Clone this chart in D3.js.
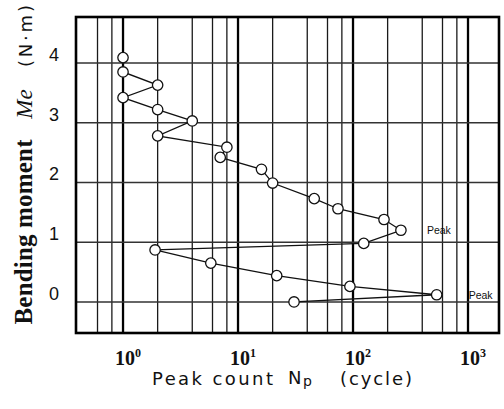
<!DOCTYPE html>
<html>
<head>
<meta charset="utf-8">
<script src="https://cdn.jsdelivr.net/npm/d3@7"></script>
<style>
  body { margin: 0; background: #fff; }
  svg { display: block; }
</style>
</head>
<body>
<svg id="drawing_region"></svg>
<script>
// peak count Np (cycle) and bending moment Me (N·m)
const peakCount = [1, 1, 2, 1, 2, 4, 2, 8, 7, 16, 20, 46, 74, 186, 261, 124, 1.9, 5.8, 21.7, 94, 534, 30.7];
const moment    = [4.09, 3.85, 3.63, 3.42, 3.22, 3.03, 2.78, 2.59, 2.42, 2.22, 1.99, 1.73, 1.56, 1.38, 1.20, 0.98, 0.87, 0.65, 0.44, 0.26, 0.12, 0.00];

const xDecades = [1, 10, 100, 1000];
const xDecadeExp = ['0', '1', '2', '3'];
const xMinor = [0.6, 0.8, 2, 4, 6, 8, 20, 40, 60, 80, 200, 400, 600, 800];
const yTicks = [0, 1, 2, 3, 4];
const peakLabels = [14, 20];   // indices of the points marked "Peak"

const config = {
    width: 504,
    height: 409,
    margin: { top: 17, right: 5, bottom: 76, left: 76 }
};

const data = peakCount.map((n, i) => ({ n: n, m: moment[i] }));

const svg = d3.select('#drawing_region')
    .attr('width', config.width)
    .attr('height', config.height);

const inner_width = config.width - config.margin.left - config.margin.right;
const inner_height = config.height - config.margin.top - config.margin.bottom;

const chart = svg.append('g')
    .attr('transform', `translate(${config.margin.left}, ${config.margin.top})`);

const xscale = d3.scaleLog()
    .domain([0.39, 1860])
    .range([0, inner_width]);

const yscale = d3.scaleLinear()
    .domain([-0.52, 4.77])
    .range([inner_height, 0]);

// grid
chart.selectAll('.vminor').data(xMinor).enter()
    .append('line')
    .attr('x1', d => xscale(d)).attr('x2', d => xscale(d))
    .attr('y1', 0).attr('y2', inner_height)
    .attr('stroke', '#1a1a1a')
    .attr('stroke-width', 1.3);

chart.selectAll('.vmajor').data(xDecades).enter()
    .append('line')
    .attr('x1', d => xscale(d)).attr('x2', d => xscale(d))
    .attr('y1', 0).attr('y2', inner_height)
    .attr('stroke', '#000')
    .attr('stroke-width', 2.3);

chart.selectAll('.hgrid').data(yTicks).enter()
    .append('line')
    .attr('x1', 0).attr('x2', inner_width)
    .attr('y1', d => yscale(d)).attr('y2', d => yscale(d))
    .attr('stroke', '#333')
    .attr('stroke-width', 1.5);

// frame
chart.append('rect')
    .attr('x', 0).attr('y', 0)
    .attr('width', inner_width).attr('height', inner_height)
    .attr('fill', 'none')
    .attr('stroke', '#000')
    .attr('stroke-width', 2.6);

// line and markers
const line = d3.line()
    .x(d => xscale(d.n))
    .y(d => yscale(d.m));

chart.append('path')
    .datum(data)
    .attr('d', line)
    .attr('fill', 'none')
    .attr('stroke', '#111')
    .attr('stroke-width', 1.3);

chart.selectAll('circle').data(data).enter()
    .append('circle')
    .attr('cx', d => xscale(d.n))
    .attr('cy', d => yscale(d.m))
    .attr('r', 5.2)
    .attr('fill', '#fff')
    .attr('stroke', '#111')
    .attr('stroke-width', 1.3);

chart.selectAll('.peak').data(peakLabels).enter()
    .append('text')
    .attr('x', (d, i) => xscale(data[d].n) + (i === 0 ? 26 : 32))
    .attr('y', d => yscale(data[d].m) + 4)
    .attr('font-family', '"Liberation Sans", Arial, sans-serif')
    .attr('font-size', 10.5)
    .attr('fill', '#111')
    .text('Peak');

// y tick labels
chart.selectAll('.ylab').data(yTicks).enter()
    .append('text')
    .attr('x', -22)
    .attr('y', d => yscale(d) - 2)
    .attr('text-anchor', 'middle')
    .attr('font-family', '"Liberation Sans", Arial, sans-serif')
    .attr('font-size', 18)
    .attr('fill', '#111')
    .text(d => d);

// x tick labels 10^n
const xlab = chart.selectAll('.xlab').data(xDecades).enter()
    .append('text')
    .attr('x', d => xscale(d) + 5)
    .attr('y', inner_height + 32)
    .attr('text-anchor', 'middle')
    .attr('font-family', '"Liberation Serif", "Times New Roman", serif')
    .attr('font-weight', 'bold')
    .attr('font-size', 20)
    .attr('fill', '#111');
xlab.append('tspan').text('10');
xlab.append('tspan')
    .attr('dy', -8)
    .attr('font-size', 12)
    .text((d, i) => xDecadeExp[i]);

// x axis title
const xt = svg.append('g')
    .attr('font-family', '"DejaVu Sans", sans-serif')
    .attr('fill', '#111');
xt.append('text').attr('x', 152).attr('y', 385).attr('font-size', 18)
    .attr('textLength', 121).attr('lengthAdjust', 'spacing').text('Peak count');
xt.append('text').attr('x', 288).attr('y', 384).attr('font-size', 18).text('N');
xt.append('text').attr('x', 303).attr('y', 386).attr('font-size', 14).text('p');
xt.append('text').attr('x', 340).attr('y', 385).attr('font-size', 18)
    .attr('textLength', 72).attr('lengthAdjust', 'spacing').text('(cycle)');

// y axis title
const yt = svg.append('g').attr('fill', '#111');
yt.append('text')
    .attr('transform', 'translate(32, 232) rotate(-90)')
    .attr('text-anchor', 'middle')
    .attr('font-family', '"Liberation Serif", "Times New Roman", serif')
    .attr('font-weight', 'bold')
    .attr('font-size', 25)
    .attr('textLength', 185).attr('lengthAdjust', 'spacing')
    .text('Bending moment');
yt.append('text')
    .attr('transform', 'translate(32, 104) rotate(-90)')
    .attr('text-anchor', 'middle')
    .attr('font-family', '"Liberation Serif", "Times New Roman", serif')
    .attr('font-style', 'italic')
    .attr('font-size', 23)
    .text('Me');
yt.append('text')
    .attr('transform', 'translate(32, 36) rotate(-90)')
    .attr('text-anchor', 'middle')
    .attr('font-family', '"DejaVu Sans", sans-serif')
    .attr('font-size', 18)
    .attr('textLength', 62).attr('lengthAdjust', 'spacing')
    .text('(N·m)');
</script>
</body>
</html>
